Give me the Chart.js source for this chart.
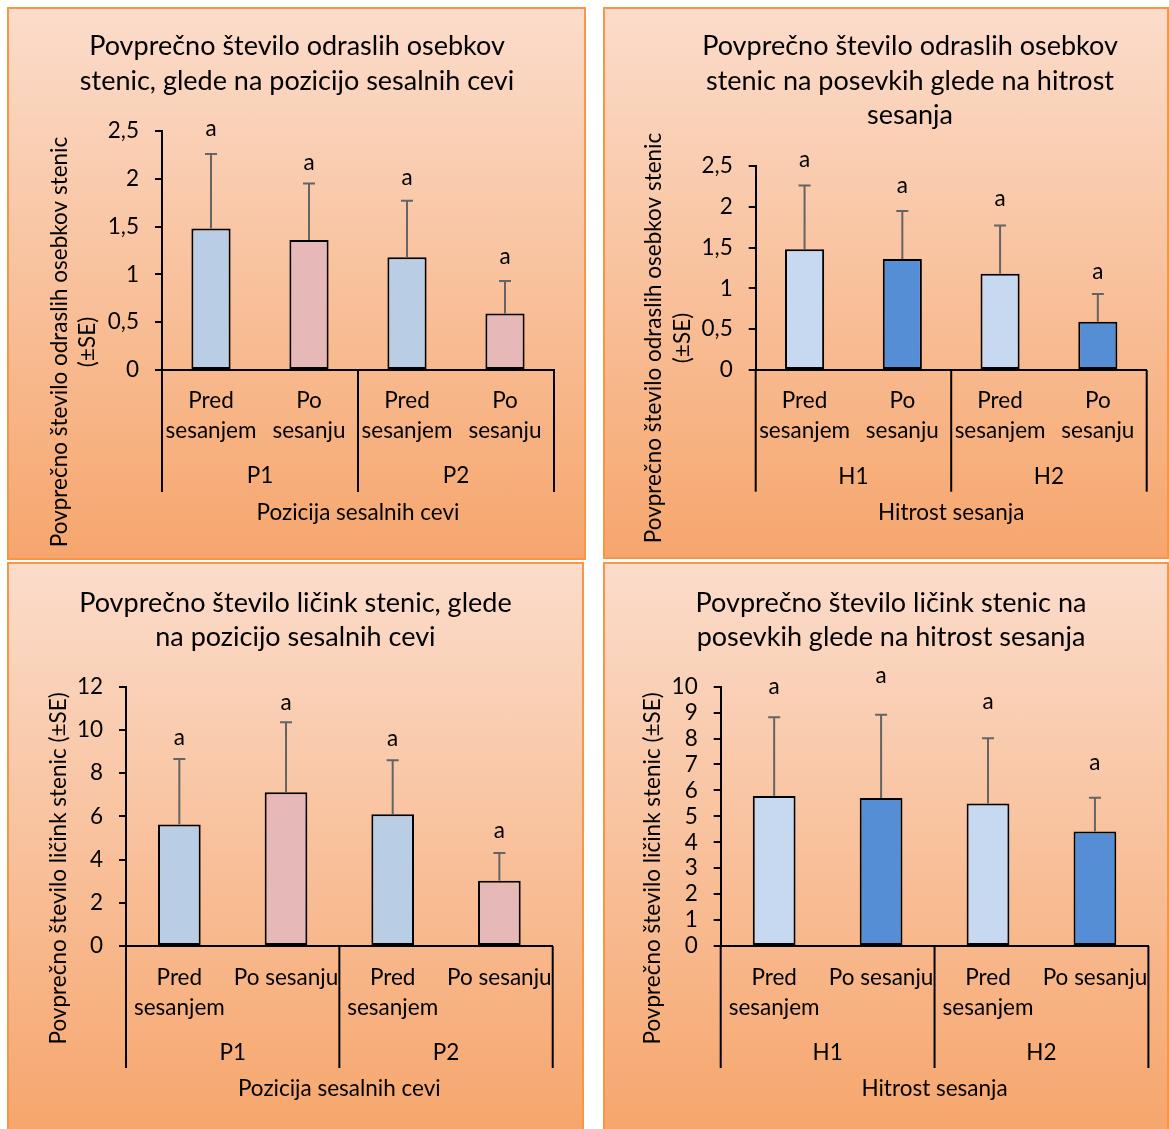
<!DOCTYPE html>
<html lang="sl">
<head>
<meta charset="utf-8">
<title>Stenice in sesanje</title>
<script src="https://cdn.jsdelivr.net/npm/chart.js@4.4.1/dist/chart.umd.min.js"></script>
<style>
  html, body { margin: 0; padding: 0; background: #fff; }
  body { position: relative; width: 1169px; height: 1129px; overflow: hidden; }
  .panel {
    position: absolute;
    box-sizing: border-box;
    border: 2px solid #f79646;
    background: linear-gradient(to bottom, #fbdccb 0%, #f6a66d 100%);
  }
  .panel canvas { display: block; }
</style>
</head>
<body>
<div class="panel" style="left:7px;top:7px;width:579px;height:553px"><canvas id="odrasliPozicija"></canvas></div>
<div class="panel" style="left:603px;top:7px;width:566px;height:552px"><canvas id="odrasliHitrost"></canvas></div>
<div class="panel" style="left:7px;top:562px;width:577px;height:569px"><canvas id="licinkePozicija"></canvas></div>
<div class="panel" style="left:603px;top:562px;width:566px;height:569px"><canvas id="licinkeHitrost"></canvas></div>

<script>
// Kategorije na osi x
const kategorijeDve = [['Pred', 'sesanjem'], ['Po', 'sesanju'], ['Pred', 'sesanjem'], ['Po', 'sesanju']];
const kategorijeEna = [['Pred', 'sesanjem'], 'Po sesanju', ['Pred', 'sesanjem'], 'Po sesanju'];
const skupinePozicija = ['P1', 'P2'];
const skupineHitrost = ['H1', 'H2'];

// Odrasli osebki (povprečje in SE)
const odrasliPovp = [1.48, 1.36, 1.18, 0.59];
const odrasliSE = [0.78, 0.59, 0.59, 0.34];

// Ličinke glede na pozicijo sesalnih cevi
const licinkePozPovp = [5.62, 7.12, 6.10, 3.02];
const licinkePozSE = [3.03, 3.24, 2.50, 1.28];

// Ličinke glede na hitrost sesanja
const licinkeHitPovp = [5.78, 5.71, 5.50, 4.42];
const licinkeHitSE = [3.04, 3.21, 2.51, 1.30];

// Oznake statistične značilnosti
const crke = ['a', 'a', 'a', 'a'];

// Vrednosti na osi y
const yOdrasli = [0, 0.5, 1, 1.5, 2, 2.5];
const yLicinkePoz = [0, 2, 4, 6, 8, 10, 12];
const yLicinkeHit = [0, 1, 2, 3, 4, 5, 6, 7, 8, 9, 10];

const PISAVA = 'Lato, "Open Sans", sans-serif';
const VEL_NASLOV = 27, VRSTICA_NASLOV = 34.5;
const VEL_OZN = 22.5, VRSTICA_OZN = 30;
const BARVE_POZ = ['#b9cde5', '#e6b9b8', '#b9cde5', '#e6b9b8'];
const BARVE_HIT = ['#c6d9f1', '#558ed5', '#c6d9f1', '#558ed5'];

function decimalka(v) {
    return String(v).replace('.', ',');
}

// napake, črke, skupine na osi x in naslov osi y
function okrasje(s) {
    return {
        id: 'okrasje',
        afterDatasetsDraw(chart) {
            const ctx = chart.ctx;
            const y = chart.scales.y;
            const meta = chart.getDatasetMeta(0);
            ctx.save();
            ctx.lineWidth = 2;
            ctx.strokeStyle = '#646464';
            ctx.fillStyle = '#000';
            ctx.font = VEL_OZN + 'px ' + PISAVA;
            ctx.textAlign = 'center';
            ctx.textBaseline = 'middle';
            s.povp.forEach((v, i) => {
                const px = meta.data[i].x;
                const y0 = y.getPixelForValue(v);
                const y1 = y.getPixelForValue(v + s.se[i]);
                ctx.beginPath();
                ctx.moveTo(px, y0);
                ctx.lineTo(px, y1);
                ctx.moveTo(px - 6, y1);
                ctx.lineTo(px + 6, y1);
                ctx.stroke();
                ctx.fillText(crke[i], px, y1 - s.dvig[i]);
            });
            ctx.restore();
        },
        afterDraw(chart) {
            const ctx = chart.ctx;
            const x = chart.scales.x;
            const n = s.kategorije.length, g = s.skupine.length, na = n / g;
            const meje = [x.left];
            for (let k = 1; k < g; k++) {
                meje.push((x.getPixelForValue(k * na - 1) + x.getPixelForValue(k * na)) / 2);
            }
            meje.push(x.right);

            ctx.save();
            ctx.strokeStyle = '#000';
            ctx.lineWidth = 2;
            meje.forEach(m => {
                ctx.beginPath();
                ctx.moveTo(m, x.top);
                ctx.lineTo(m, s.crtaKonec);
                ctx.stroke();
            });
            ctx.fillStyle = '#000';
            ctx.font = VEL_OZN + 'px ' + PISAVA;
            ctx.textAlign = 'center';
            ctx.textBaseline = 'middle';
            s.skupine.forEach((t, k) => {
                ctx.fillText(t, (meje[k] + meje[k + 1]) / 2, s.skupinaY);
            });
            // naslov osi y
            s.yNaslov.forEach((t, k) => {
                ctx.save();
                ctx.translate(s.yNaslovX[k], s.yNaslovY);
                ctx.rotate(-Math.PI / 2);
                ctx.fillText(t, 0, 0);
                ctx.restore();
            });
            ctx.restore();
        }
    };
}

function narisi(id, s) {
    const canvas = document.getElementById(id);
    canvas.width = s.w;
    canvas.height = s.h;

    const padR = s.w - s.plot.right;
    const padL = 2 * s.naslovX - s.w + padR;
    const padTop = s.naslovY - VRSTICA_NASLOV / 2;
    const padNaslovSpodaj = s.plot.top - padTop - s.naslov.length * VRSTICA_NASLOV;
    const osNaslovLH = VEL_OZN * 1.2;
    const xDno = s.osNaslovY + osNaslovLH / 2;

    new Chart(canvas, {
        type: 'bar',
        data: {
            labels: s.kategorije,
            datasets: [{
                data: s.povp,
                backgroundColor: s.barve,
                borderColor: '#000',
                borderWidth: 2,
                borderSkipped: false,
                barPercentage: 0.4,
                categoryPercentage: 1
            }]
        },
        options: {
            responsive: false,
            animation: false,
            layout: {
                autoPadding: false,
                padding: { left: padL, right: padR, top: 0, bottom: s.h - xDno }
            },
            plugins: {
                legend: { display: false },
                tooltip: { enabled: false },
                title: {
                    display: true,
                    text: s.naslov,
                    color: '#000',
                    font: { family: PISAVA, size: VEL_NASLOV, weight: 'normal', lineHeight: VRSTICA_NASLOV / VEL_NASLOV },
                    padding: { top: padTop, bottom: padNaslovSpodaj }
                }
            },
            scales: {
                x: {
                    grid: { display: false, drawTicks: false },
                    border: { display: true, color: '#000', width: 2 },
                    ticks: {
                        autoSkip: false,
                        maxRotation: 0,
                        minRotation: 0,
                        color: '#000',
                        padding: s.oznakaY - s.plot.bottom - VRSTICA_OZN / 2,
                        font: { family: PISAVA, size: VEL_OZN, lineHeight: VRSTICA_OZN / VEL_OZN }
                    },
                    title: {
                        display: true,
                        text: s.osX,
                        color: '#000',
                        padding: 0,
                        font: { family: PISAVA, size: VEL_OZN, lineHeight: 1.2 }
                    },
                    afterFit(scale) { scale.height = xDno - s.plot.bottom; }
                },
                y: {
                    min: s.yTicki[0],
                    max: s.yTicki[s.yTicki.length - 1],
                    afterBuildTicks(scale) { scale.ticks = s.yTicki.map(v => ({ value: v })); },
                    grid: { drawOnChartArea: false, tickLength: 7, color: '#000', lineWidth: 2 },
                    border: { display: true, color: '#000', width: 2 },
                    ticks: {
                        autoSkip: false,
                        color: '#000',
                        padding: 16,
                        font: { family: PISAVA, size: VEL_OZN },
                        callback: v => decimalka(v)
                    },
                    afterFit(scale) { scale.width = s.plot.left - padL; }
                }
            }
        },
        plugins: [okrasje(s)]
    });
}

narisi('odrasliPozicija', {
    w: 575, h: 549,
    plot: { left: 153, right: 545, top: 122, bottom: 361 },
    naslov: ['Povprečno število odraslih osebkov', 'stenic, glede na pozicijo sesalnih cevi'],
    naslovX: 288, naslovY: 37.4,
    kategorije: kategorijeDve, skupine: skupinePozicija, osX: 'Pozicija sesalnih cevi',
    oznakaY: 391.5, skupinaY: 467, crtaKonec: 483, osNaslovY: 503.5,
    yNaslov: ['Povprečno število odraslih osebkov stenic', '(±SE)'], yNaslovX: [51, 79], yNaslovY: 333,
    povp: odrasliPovp, se: odrasliSE, barve: BARVE_POZ, yTicki: yOdrasli,
    dvig: [25, 20.5, 23.3, 24]
});

narisi('odrasliHitrost', {
    w: 562, h: 548,
    plot: { left: 150.7, right: 541.7, top: 157, bottom: 361 },
    naslov: ['Povprečno število odraslih osebkov', 'stenic na posevkih glede na hitrost', 'sesanja'],
    naslovX: 305, naslovY: 37.4,
    kategorije: kategorijeDve, skupine: skupineHitrost, osX: 'Hitrost sesanja',
    oznakaY: 391.7, skupinaY: 467.7, crtaKonec: 482.7, osNaslovY: 503.7,
    yNaslov: ['Povprečno število odraslih osebkov stenic', '(±SE)'], yNaslovX: [48.6, 78], yNaslovY: 329,
    povp: odrasliPovp, se: odrasliSE, barve: BARVE_HIT, yTicki: yOdrasli,
    dvig: [26, 24.7, 26.7, 22]
});

narisi('licinkePozicija', {
    w: 573, h: 565,
    plot: { left: 117, right: 543.7, top: 122.7, bottom: 382 },
    naslov: ['Povprečno število ličink stenic, glede', 'na pozicijo sesalnih cevi'],
    naslovX: 286.4, naslovY: 38.8,
    kategorije: kategorijeEna, skupine: skupinePozicija, osX: 'Pozicija sesalnih cevi',
    oznakaY: 413.5, skupinaY: 489, crtaKonec: 504, osNaslovY: 525,
    yNaslov: ['Povprečno število ličink stenic (±SE)'], yNaslovX: [49.3], yNaslovY: 304.4,
    povp: licinkePozPovp, se: licinkePozSE, barve: BARVE_POZ, yTicki: yLicinkePoz,
    dvig: [21.6, 19, 21.3, 22.3]
});

narisi('licinkeHitrost', {
    w: 562, h: 565,
    plot: { left: 115.7, right: 543.4, top: 122.7, bottom: 382 },
    naslov: ['Povprečno število ličink stenic na', 'posevkih glede na hitrost sesanja'],
    naslovX: 286, naslovY: 38.8,
    kategorije: kategorijeEna, skupine: skupineHitrost, osX: 'Hitrost sesanja',
    oznakaY: 413.3, skupinaY: 488.4, crtaKonec: 504, osNaslovY: 524.7,
    yNaslov: ['Povprečno število ličink stenic (±SE)'], yNaslovX: [47.8], yNaslovY: 304.4,
    povp: licinkeHitPovp, se: licinkeHitSE, barve: BARVE_HIT, yTicki: yLicinkeHit,
    dvig: [30.6, 39, 36.6, 35]
});
</script>
</body>
</html>
